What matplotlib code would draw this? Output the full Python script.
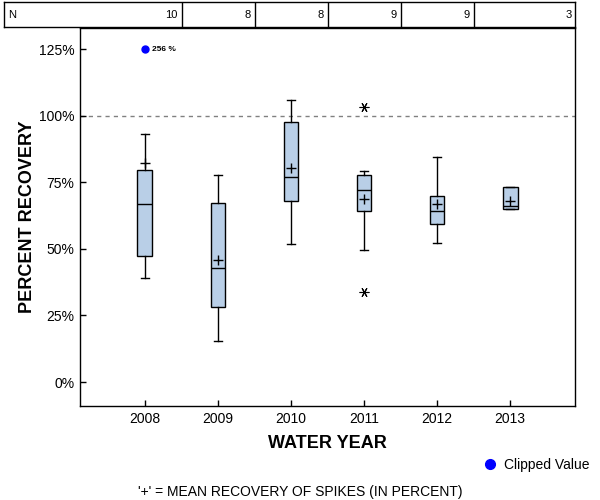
import numpy as np
import matplotlib
matplotlib.use("Agg")
import matplotlib.pyplot as plt
from matplotlib.lines import Line2D

plt.rcParams['font.family'] = ['Liberation Sans', 'DejaVu Sans']

# data
years = ['2008', '2009', '2010', '2011', '2012', '2013']
n_counts = [10, 8, 8, 9, 9, 3]
whislo = [39.0, 15.4, 51.8, 49.5, 52.1, 64.9]
q1 = [47.4, 28.2, 68.0, 64.2, 59.3, 64.9]
med = [66.8, 42.7, 77.0, 72.2, 64.2, 66.2]
q3 = [79.6, 67.2, 97.6, 77.6, 69.8, 73.2]
whishi = [93.2, 77.7, 106.0, 79.2, 84.5, 73.2]
means = [82.3, 46.0, 80.3, 68.9, 66.8, 68.0]
outliers = [[], [], [], [103.5, 33.9], [], []]

# clipped value (shown at the top of the axis)
clip_year = '2008'
clip_value = 256
clip_display = 125

box_color = '#b9cfe7'

fig = plt.figure(figsize=(6, 5), dpi=100)
ax = fig.add_axes([80/600, 1 - 406/500, 495/600, 378/500])

stats = []
for i in range(len(years)):
    stats.append(dict(whislo=whislo[i], q1=q1[i], med=med[i], q3=q3[i],
                      whishi=whishi[i], mean=means[i], fliers=outliers[i]))

pos = np.arange(len(years))
ax.bxp(stats, positions=pos, widths=0.205, capwidths=0.11, patch_artist=True,
       showmeans=True,
       boxprops=dict(facecolor=box_color, edgecolor='black', linewidth=1),
       medianprops=dict(color='black', linewidth=1),
       whiskerprops=dict(color='black', linewidth=1),
       capprops=dict(color='black', linewidth=1),
       meanprops=dict(marker='+', markeredgecolor='black', markersize=7,
                      markeredgewidth=1),
       flierprops=dict(marker=(6, 2, 90), markeredgecolor='black',
                       markersize=7, markeredgewidth=0.8, linestyle='none'))

# reference line at 100%
ax.axhline(100, color='gray', linestyle=(0, (3, 3)), linewidth=1, zorder=0)

# clipped value marker
ci = years.index(clip_year)
ax.plot([ci], [clip_display], 'o', color='blue', markersize=5)
ax.text(ci + 0.1, clip_display, f'{clip_value} %', fontsize=6, fontweight='bold',
        va='center', ha='left')

ax.set_xlim(-0.89, 5.89)
ax.set_ylim(-9, 133)
ax.set_xticks(pos)
ax.set_xticklabels(years)
ax.set_yticks([0, 25, 50, 75, 100, 125])
ax.set_yticklabels(['0%', '25%', '50%', '75%', '100%', '125%'])
ax.tick_params(labelsize=10, length=4.5, width=1, direction='in', pad=4)
ax.set_xlabel('WATER YEAR', fontsize=13, fontweight='bold', labelpad=7)
ax.set_ylabel('PERCENT RECOVERY', fontsize=13, fontweight='bold', labelpad=2)
for s in ax.spines.values():
    s.set_linewidth(1)

# N table on top
tax = fig.add_axes([4/600, 1 - 27/500, 571/600, 25/500])
tax.set_xlim(-1.932, 5.89)
tax.set_ylim(0, 1)
tax.set_xticks([])
tax.set_yticks([])
for b in pos[:-1] + 0.5:
    tax.axvline(b, color='black', linewidth=1)
tax.text(-1.932 + 0.06, 0.5, 'N', fontsize=8, va='center', ha='left')
for i, n in enumerate(n_counts):
    right = i + 0.5 if i < len(n_counts) - 1 else 5.89
    tax.text(right - 0.05, 0.5, str(n), fontsize=8, va='center', ha='right')
for s in tax.spines.values():
    s.set_linewidth(1)

# legend and footnote
handle = Line2D([], [], marker='o', color='blue', linestyle='none', markersize=7)
fig.legend([handle], ['Clipped Value'], loc='center left',
           bbox_to_anchor=(476/600, 1 - 465/500), frameon=False, fontsize=10,
           handletextpad=0.4, borderaxespad=0, handlelength=1.2)
fig.text(300/600, 1 - 492/500, "'+' = MEAN RECOVERY OF SPIKES (IN PERCENT)",
         fontsize=10, ha='center', va='center')

fig.savefig('out.png', dpi=100)
